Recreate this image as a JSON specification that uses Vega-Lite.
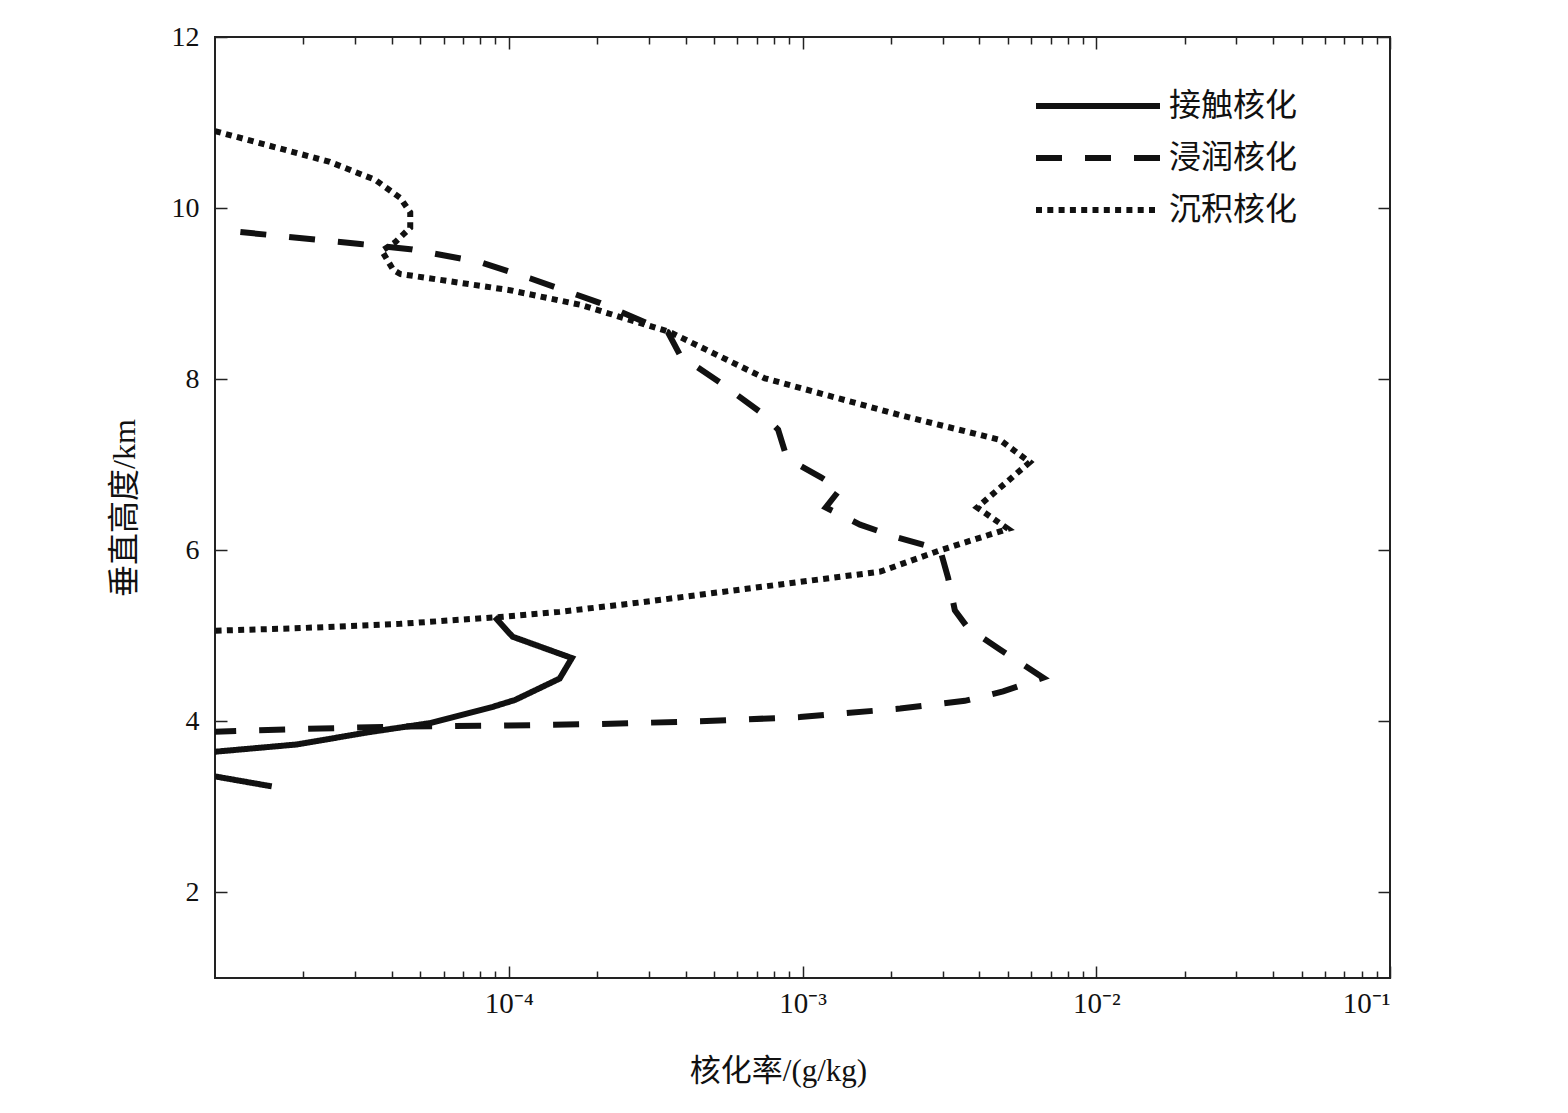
{
  "$schema": "https://vega.github.io/schema/vega-lite/v6.json",
  "width": 1175,
  "height": 941,
  "autosize": {"type": "none"},
  "padding": {"left": 215, "top": 37, "right": 178, "bottom": 135},
  "background": "white",
  "data": {
    "values": [
      {"s": "沉积核化", "i": 1, "x": 1.0e-5, "y": 10.9},
      {"s": "沉积核化", "i": 2, "x": 2.46e-5, "y": 10.54},
      {"s": "沉积核化", "i": 3, "x": 3.51e-5, "y": 10.33},
      {"s": "沉积核化", "i": 4, "x": 4.27e-5, "y": 10.12},
      {"s": "沉积核化", "i": 5, "x": 4.62e-5, "y": 9.95},
      {"s": "沉积核化", "i": 6, "x": 4.62e-5, "y": 9.77},
      {"s": "沉积核化", "i": 7, "x": 4.10e-5, "y": 9.6},
      {"s": "沉积核化", "i": 8, "x": 3.70e-5, "y": 9.5},
      {"s": "沉积核化", "i": 9, "x": 4.04e-5, "y": 9.28},
      {"s": "沉积核化", "i": 10, "x": 4.27e-5, "y": 9.23},
      {"s": "沉积核化", "i": 11, "x": 1.01e-4, "y": 9.04},
      {"s": "沉积核化", "i": 12, "x": 1.75e-4, "y": 8.87},
      {"s": "沉积核化", "i": 13, "x": 3.54e-4, "y": 8.55},
      {"s": "沉积核化", "i": 14, "x": 7.45e-4, "y": 8.01},
      {"s": "沉积核化", "i": 15, "x": 2.15e-3, "y": 7.58},
      {"s": "沉积核化", "i": 16, "x": 4.70e-3, "y": 7.29},
      {"s": "沉积核化", "i": 17, "x": 5.94e-3, "y": 7.03},
      {"s": "沉积核化", "i": 18, "x": 3.93e-3, "y": 6.5},
      {"s": "沉积核化", "i": 19, "x": 5.01e-3, "y": 6.25},
      {"s": "沉积核化", "i": 20, "x": 2.94e-3, "y": 6.0},
      {"s": "沉积核化", "i": 21, "x": 1.84e-3, "y": 5.75},
      {"s": "沉积核化", "i": 22, "x": 9.8e-4, "y": 5.63},
      {"s": "沉积核化", "i": 23, "x": 5.24e-4, "y": 5.51},
      {"s": "沉积核化", "i": 24, "x": 2.8e-4, "y": 5.39},
      {"s": "沉积核化", "i": 25, "x": 1.49e-4, "y": 5.28},
      {"s": "沉积核化", "i": 26, "x": 9.33e-5, "y": 5.22},
      {"s": "沉积核化", "i": 27, "x": 4.27e-5, "y": 5.14},
      {"s": "沉积核化", "i": 28, "x": 1.95e-5, "y": 5.09},
      {"s": "沉积核化", "i": 29, "x": 1.0e-5, "y": 5.06},

      {"s": "浸润核化", "i": 1, "x": 1.22e-5, "y": 9.72},
      {"s": "浸润核化", "i": 2, "x": 3.12e-5, "y": 9.58},
      {"s": "浸润核化", "i": 3, "x": 4.62e-5, "y": 9.52},
      {"s": "浸润核化", "i": 4, "x": 7.98e-5, "y": 9.37},
      {"s": "浸润核化", "i": 5, "x": 1.18e-4, "y": 9.18},
      {"s": "浸润核化", "i": 6, "x": 2.05e-4, "y": 8.89},
      {"s": "浸润核化", "i": 7, "x": 3.48e-4, "y": 8.55},
      {"s": "浸润核化", "i": 8, "x": 3.83e-4, "y": 8.28},
      {"s": "浸润核化", "i": 9, "x": 5.24e-4, "y": 7.96},
      {"s": "浸润核化", "i": 10, "x": 7.16e-4, "y": 7.62},
      {"s": "浸润核化", "i": 11, "x": 8.26e-4, "y": 7.41},
      {"s": "浸润核化", "i": 12, "x": 8.72e-4, "y": 7.15},
      {"s": "浸润核化", "i": 13, "x": 9.8e-4, "y": 6.99},
      {"s": "浸润核化", "i": 14, "x": 1.16e-3, "y": 6.85},
      {"s": "浸润核化", "i": 15, "x": 1.34e-3, "y": 6.71},
      {"s": "浸润核化", "i": 16, "x": 1.2e-3, "y": 6.5},
      {"s": "浸润核化", "i": 17, "x": 1.57e-3, "y": 6.3},
      {"s": "浸润核化", "i": 18, "x": 2.1e-3, "y": 6.15},
      {"s": "浸润核化", "i": 19, "x": 2.94e-3, "y": 6.01},
      {"s": "浸润核化", "i": 20, "x": 3.13e-3, "y": 5.68},
      {"s": "浸润核化", "i": 21, "x": 3.3e-3, "y": 5.3},
      {"s": "浸润核化", "i": 22, "x": 3.66e-3, "y": 5.09},
      {"s": "浸润核化", "i": 23, "x": 4.7e-3, "y": 4.84},
      {"s": "浸润核化", "i": 24, "x": 6.59e-3, "y": 4.51},
      {"s": "浸润核化", "i": 25, "x": 4.82e-3, "y": 4.35},
      {"s": "浸润核化", "i": 26, "x": 3.57e-3, "y": 4.24},
      {"s": "浸润核化", "i": 27, "x": 2.15e-3, "y": 4.15},
      {"s": "浸润核化", "i": 28, "x": 9.8e-4, "y": 4.05},
      {"s": "浸润核化", "i": 29, "x": 4.48e-4, "y": 4.0},
      {"s": "浸润核化", "i": 30, "x": 2.05e-4, "y": 3.97},
      {"s": "浸润核化", "i": 31, "x": 9.33e-5, "y": 3.95},
      {"s": "浸润核化", "i": 32, "x": 4.27e-5, "y": 3.94},
      {"s": "浸润核化", "i": 33, "x": 1.95e-5, "y": 3.91},
      {"s": "浸润核化", "i": 34, "x": 1.0e-5, "y": 3.88},

      {"s": "接触核化", "i": 1, "x": 8.97e-5, "y": 5.22},
      {"s": "接触核化", "i": 2, "x": 1.03e-4, "y": 4.99},
      {"s": "接触核化", "i": 3, "x": 1.64e-4, "y": 4.74},
      {"s": "接触核化", "i": 4, "x": 1.49e-4, "y": 4.5},
      {"s": "接触核化", "i": 5, "x": 1.05e-4, "y": 4.25},
      {"s": "接触核化", "i": 6, "x": 8.83e-5, "y": 4.17},
      {"s": "接触核化", "i": 7, "x": 5.4e-5, "y": 3.98},
      {"s": "接触核化", "i": 8, "x": 3.29e-5, "y": 3.87},
      {"s": "接触核化", "i": 9, "x": 1.9e-5, "y": 3.73},
      {"s": "接触核化", "i": 10, "x": 1.0e-5, "y": 3.645},
      {"s": "接触核化", "i": 11, "x": 7.0e-6, "y": 3.45},
      {"s": "接触核化", "i": 12, "x": 1.56e-5, "y": 3.24}
    ]
  },
  "resolve": {
    "scale": {"x": "shared", "y": "shared"},
    "axis": {"x": "independent", "y": "independent"}
  },
  "layer": [
    {
      "mark": {"type": "line", "strokeWidth": 6, "clip": true, "color": "#111"},
      "encoding": {
        "x": {
          "field": "x",
          "type": "quantitative",
          "scale": {"type": "log", "domain": [0.00001, 0.1], "nice": false},
          "axis": {
            "orient": "bottom",
            "values": [0.0001, 0.001, 0.01, 0.1],
            "labelExpr": "datum.value < 0.0005 ? '10⁻⁴' : datum.value < 0.005 ? '10⁻³' : datum.value < 0.05 ? '10⁻²' : '10⁻¹'",
            "ticks": false,
            "tickSize": 0,
            "domain": false,
            "labelPadding": 11,
            "labelFontSize": 29,
            "title": "核化率/(g/kg)",
            "titleFontSize": 31,
            "titlePadding": 38,
            "titleX": 563,
            "titleAlign": "center"
          }
        },
        "y": {
          "field": "y",
          "type": "quantitative",
          "scale": {"domain": [1, 12], "nice": false, "zero": false},
          "axis": {
            "orient": "left",
            "values": [2, 4, 6, 8, 10, 12],
            "ticks": false,
            "tickSize": 0,
            "domain": false,
            "labelPadding": 16,
            "labelFontSize": 28,
            "title": "垂直高度/km",
            "titleFontSize": 32,
            "titlePadding": 30
          }
        },
        "strokeDash": {
          "field": "s",
          "type": "nominal",
          "scale": {
            "domain": ["接触核化", "浸润核化", "沉积核化"],
            "range": [[1, 0], [26, 23], [6, 5.3]]
          },
          "legend": {
            "orient": "none",
            "legendX": 818,
            "legendY": 53,
            "title": null,
            "symbolType": "stroke",
            "symbolSize": 15376,
            "symbolStrokeWidth": 6,
            "symbolStrokeColor": "#111",
            "clipHeight": 32,
            "rowPadding": 20,
            "labelFontSize": 32,
            "labelOffset": 6,
            "labelColor": "#111"
          }
        },
        "order": {"field": "i", "type": "quantitative"}
      }
    },
    {
      "mark": {"type": "point", "opacity": 0},
      "encoding": {
        "x": {
          "field": "x",
          "type": "quantitative",
          "axis": {"orient": "bottom", "values": [0.0001, 0.001, 0.01, 0.1], "labels": false, "tickSize": 12, "offset": -12, "domain": false, "title": null}
        },
        "y": {
          "field": "y",
          "type": "quantitative",
          "axis": {"orient": "left", "values": [2, 4, 6, 8, 10, 12], "labels": false, "tickSize": 12, "offset": -12, "domain": false, "title": null}
        }
      }
    },
    {
      "mark": {"type": "point", "opacity": 0},
      "encoding": {
        "x": {
          "field": "x",
          "type": "quantitative",
          "axis": {"orient": "bottom", "values": [0.00002, 0.00003, 0.00004, 0.00005, 0.00006, 0.00007, 0.00008, 0.00009, 0.0002, 0.0003, 0.0004, 0.0005, 0.0006, 0.0007, 0.0008, 0.0009, 0.002, 0.003, 0.004, 0.005, 0.006, 0.007, 0.008, 0.009, 0.02, 0.03, 0.04, 0.05, 0.06, 0.07, 0.08, 0.09], "labels": false, "tickSize": 7, "offset": -7, "domain": false, "title": null}
        },
        "y": {
          "field": "y",
          "type": "quantitative",
          "axis": {"orient": "right", "values": [2, 4, 6, 8, 10, 12], "labels": false, "tickSize": 12, "offset": -12, "domain": false, "title": null}
        }
      }
    },
    {
      "mark": {"type": "point", "opacity": 0},
      "encoding": {
        "x": {
          "field": "x",
          "type": "quantitative",
          "axis": {"orient": "top", "values": [0.0001, 0.001, 0.01, 0.1], "labels": false, "tickSize": 12, "offset": -12, "domain": false, "title": null}
        },
        "y": {"field": "y", "type": "quantitative", "axis": null}
      }
    },
    {
      "mark": {"type": "point", "opacity": 0},
      "encoding": {
        "x": {
          "field": "x",
          "type": "quantitative",
          "axis": {"orient": "top", "values": [0.00002, 0.00003, 0.00004, 0.00005, 0.00006, 0.00007, 0.00008, 0.00009, 0.0002, 0.0003, 0.0004, 0.0005, 0.0006, 0.0007, 0.0008, 0.0009, 0.002, 0.003, 0.004, 0.005, 0.006, 0.007, 0.008, 0.009, 0.02, 0.03, 0.04, 0.05, 0.06, 0.07, 0.08, 0.09], "labels": false, "tickSize": 7, "offset": -7, "domain": false, "title": null}
        },
        "y": {"field": "y", "type": "quantitative", "axis": null}
      }
    }
  ],
  "config": {
    "font": "Liberation Serif, Noto Sans CJK SC",
    "view": {"stroke": "#222", "strokeWidth": 2},
    "axis": {
      "grid": false,
      "tickColor": "#222",
      "tickWidth": 1.5,
      "labelColor": "#111",
      "titleColor": "#111",
      "labelFont": "Liberation Serif, Noto Sans CJK SC",
      "titleFont": "Liberation Serif, Noto Sans CJK SC",
      "titleFontWeight": "normal"
    },
    "legend": {
      "labelFont": "Liberation Serif, Noto Sans CJK SC"
    }
  }
}
